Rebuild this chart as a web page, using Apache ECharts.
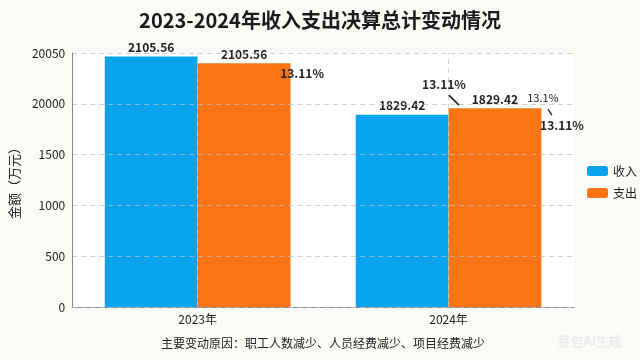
<!DOCTYPE html>
<html>
<head>
<meta charset="utf-8">
<script src="https://cdn.jsdelivr.net/npm/echarts@6/dist/echarts.min.js"></script>
<style>html,body{margin:0;padding:0;background:#fafaf7;}#c{width:640px;height:360px;}</style>
</head>
<body>
<div id="c"></div>
<script>
var categories = ['2023年', '2024年'];
var incomeValues = [2465, 1891];
var expenseValues = [2400, 1957];
var incomeLabels = ['2105.56', '1829.42'];
var expenseLabels = ['2105.56', '1829.42'];
var yTickValues = [0, 500, 1000, 1500, 2000, 2500];
var yTickLabels = ['0', '500', '1000', '1500', '20000', '20050'];
var changeRate = '13.11%';
var changeRateShort = '13.1%';
var note = '主要变动原因：职工人数减少、人员经费减少、项目经费减少';

var FONT = '"Noto Sans CJK SC", "Noto Sans", sans-serif';
var chart = echarts.init(document.getElementById('c'), null, {renderer: 'canvas'});

function lbl(text, offset, size, weight) {
  return {show: true, formatter: text, offset: offset, position: 'inside',
    fontSize: size || 12, fontWeight: weight || 'bold', color: '#222', fontFamily: FONT};
}
var arrowPath = 'path://M0,0L10,10';

var option = {
  backgroundColor: '#fafaf7',
  textStyle: {fontFamily: FONT},
  title: {
    text: '2023-2024年收入支出决算总计变动情况',
    left: 'center', top: 5,
    textStyle: {fontSize: 20, fontWeight: 'bold', color: '#1a1a1a', fontFamily: FONT}
  },
  legend: {
    data: ['收入', '支出'],
    orient: 'vertical', left: 582, top: 160,
    itemWidth: 21, itemHeight: 10, itemGap: 10,
    textStyle: {fontSize: 12, color: '#222'}
  },
  grid: {left: 70, right: 66, top: 53, bottom: 53, show: true, backgroundColor: '#ffffff', borderWidth: 0},
  xAxis: {
    type: 'category', data: categories,
    name: note, nameLocation: 'middle', nameGap: 30,
    nameTextStyle: {fontSize: 12, color: '#222'},
    axisLine: {lineStyle: {color: '#888'}},
    axisTick: {alignWithLabel: true, lineStyle: {color: '#888'}},
    axisLabel: {fontSize: 12, color: '#222', margin: 6},
    splitLine: {show: false}
  },
  yAxis: {
    type: 'value', min: 0, max: 2500, interval: 500, z: 3,
    name: '金额（万元）', nameLocation: 'middle', nameGap: 44, nameRotate: 90,
    nameTextStyle: {fontSize: 13, color: '#222'},
    axisLine: {show: true, lineStyle: {color: '#888'}},
    axisTick: {show: false},
    axisLabel: {fontSize: 12, color: '#222', margin: 7,
      formatter: function (v) { var i = yTickValues.indexOf(v); return i >= 0 ? yTickLabels[i] : ''; }},
    splitLine: {show: true, lineStyle: {type: [5, 4], color: 'rgba(190,190,190,0.75)', width: 1}}
  },
  series: [
    {
      name: '收入', type: 'bar', data: incomeValues,
      barWidth: '37%', barGap: '0%',
      itemStyle: {color: '#0aa3ee'},
      label: {show: true, position: 'top', distance: 3, fontSize: 12, fontWeight: 'bold', color: '#222',
        formatter: function (p) { return incomeLabels[p.dataIndex]; }}
    },
    {
      name: '支出', type: 'bar', data: expenseValues,
      barWidth: '37%', barGap: '0%',
      itemStyle: {color: '#f97414'},
      label: {show: true, position: 'top', distance: 3, fontSize: 12, fontWeight: 'bold', color: '#222',
        formatter: function (p) { return expenseLabels[p.dataIndex]; }},
      markPoint: {
        silent: true,
        symbol: 'circle', symbolSize: 0,
        data: [
          {coord: [categories[0], expenseValues[0]], label: lbl(changeRate, [58, 10])},
          {coord: [categories[1], expenseValues[1]], label: lbl(changeRate, [-51, -24])},
          {coord: [categories[1], expenseValues[1]], label: lbl(changeRateShort, [48, -10], 11, 'normal')},
          {coord: [categories[1], expenseValues[1]], label: lbl(changeRate, [67, 17])},
          {coord: [categories[1], expenseValues[1]], symbol: arrowPath, symbolSize: [10, 10],
            symbolOffset: [-41, -8], label: {show: false},
            itemStyle: {color: 'none', borderColor: '#222', borderWidth: 1.6}},
          {coord: [categories[1], expenseValues[1]], symbol: arrowPath, symbolSize: [4, 6],
            symbolOffset: [55, 4], label: {show: false},
            itemStyle: {color: 'none', borderColor: '#222', borderWidth: 1.4}}
        ]
      }
    },
    {
      name: 'vlines', type: 'line', data: [],
      markLine: {
        silent: true, symbol: 'none', label: {show: false},
        lineStyle: {type: [5, 4], color: 'rgba(200,200,200,0.8)', width: 1},
        data: categories.map(function (c) { return {xAxis: c}; })
      }
    }
  ],
  graphic: [{
    type: 'text', right: 18, bottom: 12,
    style: {text: '豆包AI生成', fill: '#ebebeb', fontSize: 13, fontWeight: 'bold', fontFamily: FONT}
  }]
};
chart.setOption(option);
</script>
</body>
</html>
